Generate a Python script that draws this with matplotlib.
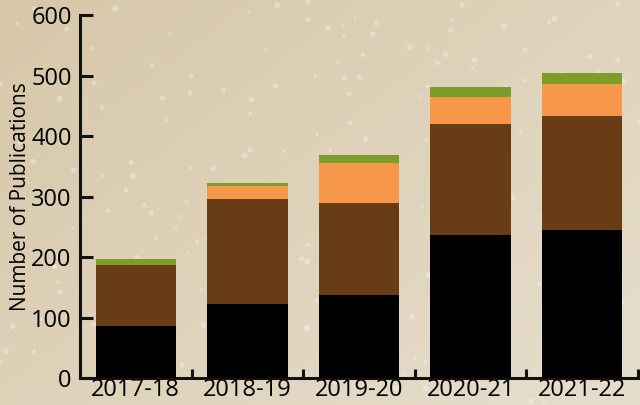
import matplotlib
matplotlib.use("Agg")
import matplotlib.pyplot as plt
import numpy as np

# values
years = ["2017-18", "2018-19", "2019-20", "2020-21", "2021-22"]
black_part = [87, 123, 138, 237, 245]
brown_part = [100, 173, 152, 184, 189]
orange_part = [0, 22, 66, 44, 53]
green_part = [10, 5, 13, 17, 18]

colors = ["#000000", "#683d15", "#f6974a", "#7e9c2a"]

plt.rcParams["font.family"] = ["Open Sans", "DejaVu Sans"]

fig = plt.figure(figsize=(6.4, 4.05), dpi=100)

# beige diagonal gradient background
bg = fig.add_axes([0, 0, 1, 1], zorder=-10)
gx, gy = np.meshgrid(np.linspace(0, 1, 320), np.linspace(0, 1, 200))
t = np.clip(0.55 * gx + 0.45 * gy, 0, 1)[..., None]
c0 = np.array([215, 199, 168]) / 255
c1 = np.array([230, 222, 205]) / 255
bg.imshow(c0 + (c1 - c0) * t, aspect="auto", extent=[0, 1, 1, 0])
# faint speckles
rng = np.random.default_rng(3)
px, py = rng.random(220), rng.random(220)
bg.scatter(px, py, s=rng.uniform(4, 20, 220), color="white", alpha=0.3, lw=0)
bg.set_xlim(0, 1)
bg.set_ylim(1, 0)
bg.axis("off")

ax = fig.add_axes([0.125, 0.066, 0.872, 0.896])
ax.patch.set_alpha(0)

x = np.arange(len(years))
bottom = np.zeros(len(years))
for part, col in zip([black_part, brown_part, orange_part, green_part], colors):
    ax.bar(x, part, 0.72, bottom=bottom, color=col, zorder=3)
    bottom += np.array(part)

ax.set_xlim(-0.5, len(years) - 0.5)
ax.set_ylim(0, 600)
ax.set_yticks(range(0, 601, 100))
ax.set_xticks(x)
ax.set_xticklabels(years)
ax.set_xticks(np.arange(-0.5, len(years)), minor=True)

for s in ["top", "right"]:
    ax.spines[s].set_visible(False)
for s in ["left", "bottom"]:
    ax.spines[s].set_linewidth(2.2)
    ax.spines[s].set_color("#111111")

ax.tick_params(axis="y", direction="in", length=9, width=2.2, color="#111111",
               labelsize=17, pad=6)
ax.tick_params(axis="x", which="major", length=0, labelsize=17, pad=0)
ax.tick_params(axis="x", which="minor", direction="in", length=6.5, width=2.2,
               color="#111111")
ax.set_ylabel("Number of Publications", fontsize=15, labelpad=0)

fig.savefig("out.png", dpi=100)
